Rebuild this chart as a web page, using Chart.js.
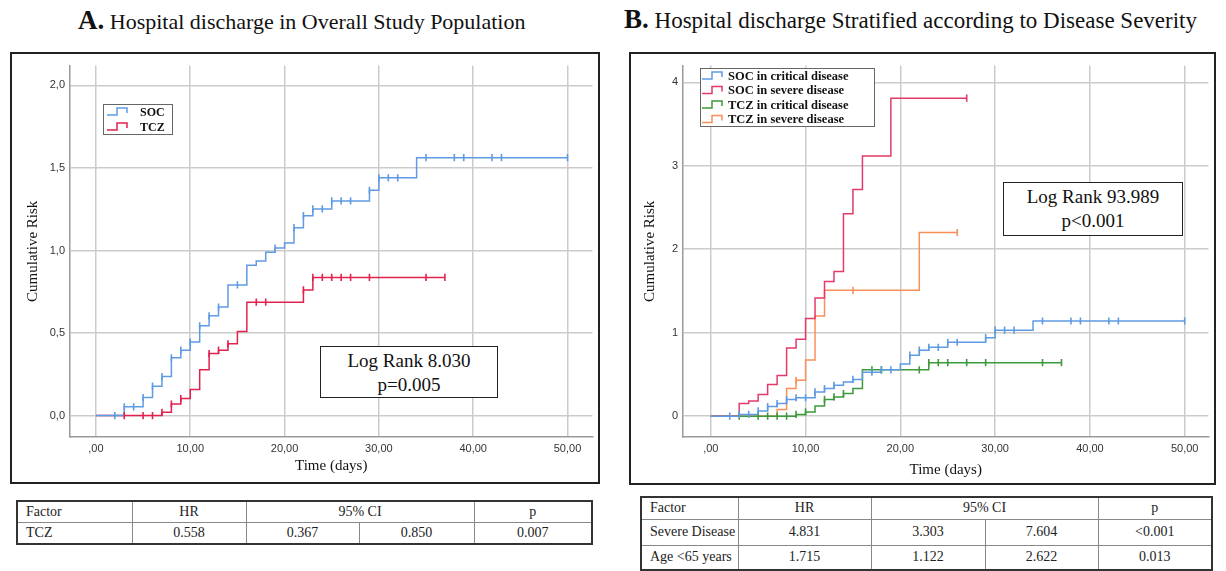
<!DOCTYPE html>
<html><head><meta charset="utf-8">
<script src="https://cdn.jsdelivr.net/npm/chart.js@4.4.1/dist/chart.umd.min.js"></script>
<style>
body{margin:0;background:#fff;width:1226px;height:571px;position:relative;overflow:hidden;font-family:"Liberation Serif",serif;}
.title{position:absolute;font-family:"Liberation Serif",serif;color:#111;white-space:nowrap;line-height:30px;}
.title b{font-size:27px;}
.frame{position:absolute;border:2px solid #222;box-sizing:border-box;}
.frame canvas{display:block;}
.lr{position:absolute;border:1.5px solid #222;background:#fff;text-align:center;font-size:19px;line-height:24px;box-sizing:border-box;padding-top:2px;color:#111;}
table{position:absolute;border-collapse:collapse;font-family:"Liberation Serif",serif;font-size:14px;color:#222;border:2px solid #333;table-layout:fixed;}
td{border:1px solid #888;text-align:center;padding:0;}
td.f{text-align:left;padding-left:8px;}
</style></head>
<body>
<div class="title" style="left:78px;top:5px;font-size:22px;"><b>A.</b> Hospital discharge in Overall Study Population</div>
<div class="title" style="left:624px;top:4px;font-size:23px;"><b>B.</b> Hospital discharge Stratified according to Disease Severity</div>

<div class="frame" style="left:10px;top:52px;width:590px;height:432px;"><canvas id="cA" width="586" height="428"></canvas></div>
<div class="frame" style="left:629px;top:52px;width:587px;height:433px;"><canvas id="cB" width="583" height="429"></canvas></div>

<div class="lr" style="left:320px;top:346px;width:178px;height:52px;">Log Rank 8.030<br>p=0.005</div>
<div class="lr" style="left:1003px;top:182px;width:180px;height:54px;">Log Rank 93.989<br>p&lt;0.001</div>

<table id="tA" style="left:16px;top:500px;width:575px;"></table>
<table id="tB" style="left:640px;top:496px;width:571px;"></table>

<script>
// ---------- Panel A data ----------
const A_socDays = [0,3,5,6,7,8,9,10,11,12,13,14,16,17,18,19,20,21,22,23,25,29,30,34,50];
const A_socVals = [0,0.053,0.109,0.178,0.236,0.35,0.396,0.445,0.544,0.604,0.657,0.791,0.91,0.936,0.99,1.015,1.045,1.138,1.211,1.252,1.3,1.365,1.44,1.562,1.562];
const A_socCens = [2,3,4,5,6,7,8,9,10,11,12,13,15,19,21,22,23,24,25,26,27,29,30,31,32,35,38,39,42,43,50];
const A_tczDays = [0,7,8,9,10,11,12,13,14,15,16,22,23,37];
const A_tczVals = [0,0.02,0.07,0.103,0.158,0.277,0.376,0.396,0.435,0.509,0.687,0.761,0.837,0.837];
const A_tczCens = [3,5,6,7,8,9,12,13,14,17,18,22,23,24,25,26,27,29,35,37];
const A_yTicks = [0,0.5,1.0,1.5,2.0];
const A_labels = ['SOC','TCZ'];

// ---------- Panel B data ----------
const B_socCritDays = [0,3,5,6,7,8,9,11,12,13,14,15,16,18,20,21,22,23,25,29,30,34,50];
const B_socCritVals = [0,0.02,0.063,0.115,0.15,0.198,0.22,0.29,0.33,0.37,0.41,0.44,0.526,0.555,0.625,0.73,0.79,0.825,0.885,0.94,1.03,1.14,1.14];
const B_socCritCens = [2,3,4,5,6,7,8,9,10,11,12,13,15,17,18,19,21,22,23,24,25,26,29,30,31,32,35,38,39,42,43,50];
const B_socSevDays = [0,3,4,5,6,7,8,9,10,11,12,13,14,15,16,19,27];
const B_socSevVals = [0,0.151,0.18,0.26,0.38,0.487,0.815,0.92,1.17,1.416,1.614,1.733,2.425,2.715,3.118,3.81,3.81];
const B_socSevCens = [27];
const B_tczCritDays = [0,9,10,11,12,13,14,15,16,23,37];
const B_tczCritVals = [0,0.02,0.05,0.12,0.2,0.23,0.27,0.33,0.555,0.64,0.64];
const B_tczCritCens = [3,5,6,7,8,9,10,12,13,14,17,18,22,23,24,25,27,29,35,37];
const B_tczSevDays = [0,7,8,9,10,11,12,22,26];
const B_tczSevVals = [0,0.08,0.33,0.43,0.673,1.2,1.507,2.2,2.2];
const B_tczSevCens = [9,15,26];
const B_yTicks = [0,1,2,3,4];
const B_labels = ['SOC in critical disease','SOC in severe disease','TCZ in critical disease','TCZ in severe disease'];

const xTicks = [0,10,20,30,40,50];

// ---------- Tables ----------
const tA_head = ['Factor','HR','95% CI','p'];
const tA_rows = [['TCZ','0.558','0.367','0.850','0.007']];
const tB_rows = [['Severe Disease','4.831','3.303','7.604','<0.001'],['Age <65 years','1.715','1.122','2.622','0.013']];

const COL = {blue:'#5f9be3', red:'#e2224e', pink:'#e33a68', green:'#3d9a3a', orange:'#fb8f5a'};

function stepAt(days, vals, t){let v=vals[0];for(let i=0;i<days.length;i++){if(days[i]<=t)v=vals[i];}return v;}
function stepData(days, vals){return days.map((d,i)=>({x:d,y:vals[i]}));}
function censData(days, vals, cens){return cens.map(t=>({x:t,y:stepAt(days,vals,t)}));}

function lineDS(days, vals, color){
  return {data:stepData(days,vals),stepped:true,borderColor:color,borderWidth:1.5,pointRadius:0,fill:false,order:2};
}
function censDS(days, vals, cens, color){
  return {data:censData(days,vals,cens),showLine:false,pointStyle:'line',rotation:90,pointRadius:3.6,
    pointBorderColor:color,pointBorderWidth:1.6,borderColor:color,backgroundColor:color,order:1};
}

const legendPlugin = {
  id:'stepLegend',
  afterDatasetsDraw(chart){
    const o = chart.options.plugins.stepLegend; if(!o) return;
    const ctx = chart.ctx; ctx.save();
    ctx.fillStyle='#fff'; ctx.fillRect(o.x,o.y,o.w,o.h);
    ctx.strokeStyle='#666'; ctx.lineWidth=1; ctx.strokeRect(o.x+0.5,o.y+0.5,o.w,o.h);
    ctx.font = 'bold '+o.fs+'px "Liberation Serif"'; ctx.textBaseline='middle'; ctx.textAlign='left';
    o.rows.forEach((r,i)=>{
      const cy = o.y + o.top + i*o.rowH;
      const x0 = o.x+o.ix;
      ctx.strokeStyle=r.color; ctx.lineWidth=1.5;
      ctx.beginPath(); ctx.moveTo(x0,cy+3); ctx.lineTo(x0+10,cy+3); ctx.lineTo(x0+10,cy-4); ctx.lineTo(x0+20,cy-4); ctx.lineTo(x0+20,cy+1); ctx.stroke();
      ctx.fillStyle='#111'; ctx.fillText(r.label, o.x+o.tx, cy+0.5);
    });
    ctx.restore();
  }
};

function makeChart(id, datasets, cfg){
  return new Chart(document.getElementById(id), {
    type:'line',
    data:{datasets},
    plugins:[legendPlugin],
    options:{
      responsive:false, animation:false, devicePixelRatio:1,
      layout:{padding:{top:cfg.padTop,right:cfg.padRight,left:0,bottom:0}},
      plugins:{legend:{display:false},tooltip:{enabled:false},stepLegend:cfg.legend},
      scales:{
        x:{type:'linear',min:cfg.xmin,max:cfg.xmax,
          afterBuildTicks:s=>{s.ticks=xTicks.map(v=>({value:v}));},
          afterFit:s=>{s.height=cfg.xh;},
          grid:{color:'#cbcbcb',lineWidth:1.5,drawTicks:false},
          border:{color:'#9a9a9a',width:1.5},
          ticks:{padding:5,color:'#333',font:{family:'Liberation Sans',size:11},maxRotation:0,autoSkip:false,
            callback:v=>v===0?',00':v.toFixed(2).replace('.',',')},
          title:{display:true,text:'Time (days)',color:'#111',font:{family:'Liberation Serif',size:15},padding:{top:0,bottom:cfg.xtp}}
        },
        y:{type:'linear',min:cfg.ymin,max:cfg.ymax,
          afterBuildTicks:s=>{s.ticks=cfg.yTicks.map(v=>({value:v}));},
          afterFit:s=>{s.width=cfg.yw;},
          grid:{color:'#cbcbcb',lineWidth:1.5,drawTicks:false},
          border:{color:'#9a9a9a',width:1.5},
          ticks:{padding:5,color:'#333',font:{family:'Liberation Sans',size:11},autoSkip:false,
            callback:cfg.yfmt},
          title:{display:true,text:'Cumulative Risk',color:'#111',font:{family:'Liberation Serif',size:15},padding:{top:cfg.ytp,bottom:0}}
        }
      }
    }
  });
}

makeChart('cA', [
  lineDS(A_socDays,A_socVals,COL.blue),
  lineDS(A_tczDays,A_tczVals,COL.red),
  censDS(A_socDays,A_socVals,A_socCens,COL.blue),
  censDS(A_tczDays,A_tczVals,A_tczCens,COL.red)
], {padTop:6,padRight:4,xh:45,yw:58,xmin:-2.75,xmax:52.64,ymin:-0.13,ymax:2.12,yTicks:A_yTicks,
    yfmt:v=>v.toFixed(1).replace('.',','),xtp:7,ytp:12,
    legend:{x:91,y:50,w:69,h:30,top:8,rowH:15,ix:4,tx:37,fs:12,rows:[{label:A_labels[0],color:COL.blue},{label:A_labels[1],color:COL.red}]}});

makeChart('cB', [
  lineDS(B_socCritDays,B_socCritVals,COL.blue),
  lineDS(B_socSevDays,B_socSevVals,COL.pink),
  lineDS(B_tczCritDays,B_tczCritVals,COL.green),
  lineDS(B_tczSevDays,B_tczSevVals,COL.orange),
  censDS(B_socCritDays,B_socCritVals,B_socCritCens,COL.blue),
  censDS(B_socSevDays,B_socSevVals,B_socSevCens,COL.pink),
  censDS(B_tczCritDays,B_tczCritVals,B_tczCritCens,COL.green),
  censDS(B_tczSevDays,B_tczSevVals,B_tczSevCens,COL.orange)
], {padTop:8,padRight:2,xh:46,yw:52,xmin:-2.93,xmax:52.5,ymin:-0.25,ymax:4.2,yTicks:B_yTicks,
    yfmt:v=>String(v),xtp:4,ytp:10,
    legend:{x:69,y:14,w:174,h:58,top:8,rowH:14.5,ix:2,tx:28,fs:12.5,
      rows:B_labels.map((l,i)=>({label:l,color:[COL.blue,COL.pink,COL.green,COL.orange][i]}))}});

// tables
function buildTable(id, widths, rows, heights){
  const t=document.getElementById(id);
  let h='<colgroup>'+widths.map(w=>'<col style="width:'+w+'px">').join('')+'</colgroup>';
  h+='<tr style="height:'+heights[0]+'px"><td class="f">'+tA_head[0]+'</td><td>'+tA_head[1]+'</td><td colspan="2">'+tA_head[2]+'</td><td>'+tA_head[3]+'</td></tr>';
  rows.forEach((r,i)=>{h+='<tr style="height:'+heights[i+1]+'px">'+r.map((c,j)=>'<td'+(j===0?' class="f"':'')+'>'+c.replace('<','&lt;')+'</td>').join('')+'</tr>';});
  t.innerHTML=h;
}
buildTable('tA',[115,114,113,115,118],tA_rows,[21,22]);
buildTable('tB',[97,133,114,113,114],tB_rows,[22,26,25]);
</script>
</body></html>
